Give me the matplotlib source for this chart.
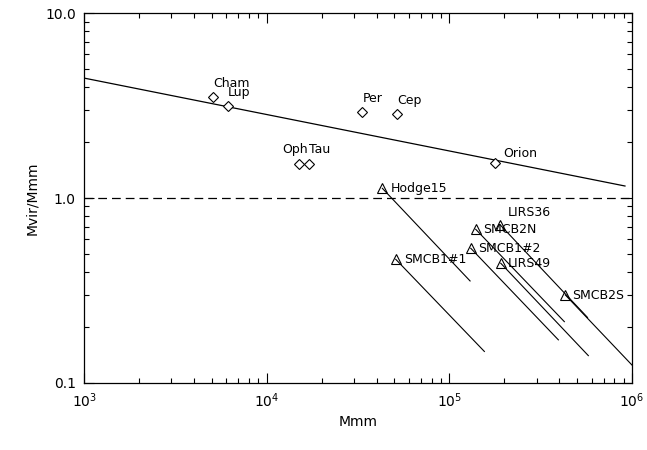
import matplotlib
matplotlib.use('Agg')
import matplotlib.pyplot as plt
from matplotlib.ticker import FixedLocator, FixedFormatter, LogLocator, NullFormatter

# Галактические облака (ромбы)
gal_names = ['Cham', 'Lup', 'Oph', 'Tau', 'Per', 'Cep', 'Orion']
gal_mmm = [5080, 6110, 15070, 17070, 33360, 51860, 178000]
gal_ratio = [3.52, 3.14, 1.52, 1.53, 2.92, 2.84, 1.55]
gal_offsets = [(0, 5), (0, 5), (-12, 6), (0, 6), (0, 5), (0, 5), (6, 2)]

# Облака SMC/LMC (треугольники) и отрезки от них
smc_names = ['Hodge15', 'SMCB1#1', 'SMCB2N', 'LIRS36', 'SMCB1#2', 'LIRS49', 'SMCB2S']
smc_mmm = [42930, 50830, 139300, 189900, 130800, 190900, 430900]
smc_ratio = [1.128, 0.466, 0.677, 0.7145, 0.535, 0.444, 0.299]
smc_mmm_end = [129700, 155300, 425600, 570000, 394700, 575900, 1300000]
smc_ratio_end = [0.356, 0.148, 0.2145, 0.226, 0.171, 0.1405, 0.095]
smc_offsets = [(6, -5), (6, -5), (5, -5), (5, 4), (5, -5), (5, -5), (5, -5)]

# Аппроксимирующая прямая
fit_x = [1e3, 9.14e5]
fit_y = [4.45, 1.161]

fig = plt.figure(figsize=(6.47, 4.5), dpi=100)
ax = fig.add_axes([0.130, 0.149, 0.847, 0.822])

ax.plot(fit_x, fit_y, color='black', lw=0.9)
ax.axhline(1.0, color='black', lw=0.9, ls=(0, (7, 4)))

ax.plot(gal_mmm, gal_ratio, ls='none', marker='D', ms=5, mfc='white', mec='black', mew=0.8)
for name, x, y, off in zip(gal_names, gal_mmm, gal_ratio, gal_offsets):
    ax.annotate(name, (x, y), xytext=off, textcoords='offset points',
                fontsize=9, ha='left', va='bottom')

for x0, y0, x1, y1 in zip(smc_mmm, smc_ratio, smc_mmm_end, smc_ratio_end):
    ax.plot([x0, x1], [y0, y1], color='black', lw=0.8)
ax.plot(smc_mmm, smc_ratio, ls='none', marker='^', ms=7, mfc='none', mec='black', mew=0.8)
for name, x, y, off in zip(smc_names, smc_mmm, smc_ratio, smc_offsets):
    ax.annotate(name, (x, y), xytext=off, textcoords='offset points',
                fontsize=9, ha='left', va='bottom')

ax.set_xscale('log')
ax.set_yscale('log')
ax.set_xlim(1e3, 1e6)
ax.set_ylim(0.1, 10)

ax.yaxis.set_major_locator(FixedLocator([0.1, 1.0, 10.0]))
ax.yaxis.set_major_formatter(FixedFormatter(['0.1', '1.0', '10.0']))
ax.yaxis.set_minor_locator(LogLocator(base=10, subs=range(2, 10)))
ax.yaxis.set_minor_formatter(NullFormatter())
ax.xaxis.set_minor_locator(LogLocator(base=10, subs=range(2, 10)))
ax.xaxis.set_minor_formatter(NullFormatter())

ax.tick_params(which='both', direction='in', top=True, right=True, labelsize=10, width=0.8)
ax.tick_params(which='major', length=7, pad=6)
ax.tick_params(which='minor', length=3.5)
for s in ax.spines.values():
    s.set_linewidth(0.9)

ax.set_xlabel('Mmm', fontsize=10)
ax.set_ylabel('Mvir/Mmm', fontsize=10)

fig.savefig('out.png', dpi=100)
